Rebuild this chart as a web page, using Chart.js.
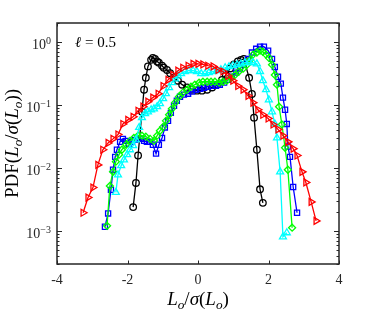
<!DOCTYPE html>
<html>
<head>
<meta charset="utf-8">
<script src="https://cdn.jsdelivr.net/npm/chart.js@4.4.1/dist/chart.umd.min.js"></script>
<style>
  html, body { margin: 0; padding: 0; background: #fff; }
  #wrap { width: 374px; height: 312px; position: relative; }
</style>
</head>
<body>
<div id="wrap"><canvas id="chartPdf"></canvas></div>
<script>
// ── DATA ──────────────────────────────────────────────────────────────────────
const xTicks = [-4, -2, 0, 2, 4];
const yDecades = [1e-3, 1e-2, 1e-1, 1];
const yExpLabels = ['\u22123', '\u22122', '\u22121', '0'];

const blackX = [-1.84,-1.76,-1.70,-1.59,-1.53,-1.48,-1.42,-1.33,-1.28,-1.22,-1.16,-1.11,-1.02,-0.97,-0.88,-0.79,-0.68,-0.57,-0.45,-0.31,-0.17,-0.03,0.11,0.26,0.40,0.54,0.68,0.79,0.91,1.02,1.13,1.22,1.30,1.45,1.53,1.59,1.67,1.76,1.84];
const blackY = [0.0024,0.0058,0.0158,0.078,0.175,0.27,0.41,0.52,0.56,0.54,0.49,0.47,0.42,0.39,0.36,0.32,0.27,0.243,0.21,0.19,0.175,0.169,0.169,0.175,0.19,0.21,0.25,0.30,0.38,0.44,0.49,0.52,0.54,0.27,0.15,0.063,0.0195,0.0046,0.0028];

const blueX = [-2.64,-2.55,-2.47,-2.41,-2.35,-2.30,-2.21,-2.13,-2.04,-1.96,-1.87,-1.79,-1.70,-1.62,-1.53,-1.45,-1.36,-1.28,-1.19,-1.11,-1.02,-0.94,-0.85,-0.77,-0.68,-0.60,-0.51,-0.40,-0.28,-0.17,-0.06,0.06,0.17,0.28,0.40,0.51,0.62,0.74,0.85,0.96,1.08,1.19,1.30,1.42,1.53,1.65,1.76,1.87,1.99,2.10,2.18,2.27,2.35,2.41,2.47,2.52,2.55,2.61,2.70,2.81];
const blueY = [0.00117,0.0019,0.0045,0.0094,0.015,0.0195,0.026,0.029,0.027,0.0243,0.026,0.028,0.029,0.029,0.027,0.026,0.026,0.0234,0.0169,0.0234,0.030,0.044,0.056,0.075,0.097,0.117,0.135,0.146,0.151,0.163,0.175,0.181,0.188,0.195,0.202,0.202,0.21,0.226,0.25,0.28,0.326,0.377,0.436,0.54,0.68,0.78,0.84,0.84,0.73,0.54,0.40,0.28,0.218,0.131,0.084,0.050,0.0219,0.015,0.0050,0.00195];

const greenX = [-2.58,-2.50,-2.41,-2.33,-2.24,-2.16,-2.04,-1.93,-1.82,-1.70,-1.59,-1.48,-1.36,-1.25,-1.16,-1.08,-0.99,-0.91,-0.82,-0.74,-0.65,-0.54,-0.43,-0.31,-0.20,-0.09,0.03,0.14,0.26,0.37,0.48,0.60,0.71,0.82,0.94,1.05,1.16,1.28,1.39,1.48,1.56,1.67,1.76,1.84,1.93,2.01,2.10,2.18,2.24,2.30,2.38,2.47,2.55,2.67];
const greenY = [0.00121,0.0052,0.0087,0.0126,0.0163,0.0195,0.0234,0.027,0.030,0.0326,0.0326,0.0314,0.029,0.027,0.0326,0.039,0.045,0.056,0.070,0.087,0.109,0.135,0.157,0.175,0.195,0.21,0.226,0.234,0.234,0.234,0.234,0.226,0.234,0.243,0.27,0.30,0.34,0.377,0.436,0.52,0.63,0.68,0.73,0.70,0.63,0.56,0.436,0.30,0.21,0.094,0.049,0.021,0.0094,0.00113];

const cyanX = [-2.33,-2.27,-2.18,-2.10,-2.01,-1.93,-1.84,-1.76,-1.67,-1.59,-1.50,-1.42,-1.33,-1.25,-1.16,-1.08,-0.99,-0.91,-0.82,-0.74,-0.65,-0.57,-0.48,-0.37,-0.26,-0.14,-0.03,0.09,0.20,0.31,0.43,0.54,0.65,0.77,0.88,0.99,1.11,1.22,1.33,1.45,1.56,1.67,1.76,1.84,1.93,2.01,2.10,2.18,2.24,2.33,2.41,2.52];
const cyanY = [0.0041,0.0078,0.0109,0.0135,0.0163,0.0195,0.0226,0.028,0.044,0.063,0.073,0.078,0.084,0.087,0.094,0.105,0.126,0.151,0.188,0.226,0.26,0.29,0.314,0.338,0.35,0.35,0.338,0.314,0.314,0.326,0.338,0.35,0.363,0.39,0.405,0.42,0.436,0.45,0.47,0.47,0.47,0.45,0.34,0.243,0.175,0.121,0.078,0.050,0.030,0.0087,0.00081,0.00094];

const redX = [-3.26,-3.12,-2.98,-2.84,-2.70,-2.55,-2.41,-2.27,-2.13,-1.99,-1.84,-1.70,-1.56,-1.42,-1.28,-1.13,-0.99,-0.85,-0.71,-0.57,-0.43,-0.28,-0.14,0,0.14,0.28,0.43,0.57,0.71,0.85,0.99,1.13,1.28,1.42,1.56,1.70,1.84,1.99,2.13,2.27,2.41,2.55,2.70,2.81,2.95,3.06,3.21,3.35];
const redY = [0.00195,0.0034,0.0049,0.0112,0.0195,0.025,0.029,0.034,0.050,0.058,0.065,0.081,0.094,0.113,0.131,0.151,0.20,0.25,0.30,0.35,0.39,0.42,0.45,0.45,0.44,0.42,0.41,0.36,0.34,0.29,0.243,0.20,0.175,0.14,0.109,0.084,0.070,0.061,0.049,0.041,0.0326,0.026,0.0203,0.0158,0.0087,0.0059,0.0029,0.00145];

// ── HELPERS ───────────────────────────────────────────────────────────────────
const SERIF = '"Liberation Serif", "DejaVu Serif", serif';
const AXIS_COL = '#262626';

const pts = (xs, ys) => xs.map((v, i) => ({ x: v, y: ys[i] }));

function series(label, xs, ys, color, style, radius, rotation) {
  return {
    label, data: pts(xs, ys), showLine: true,
    borderColor: color, borderWidth: 1.3,
    pointStyle: style, pointRadius: radius, pointRotation: rotation || 0,
    pointBorderColor: color, pointBackgroundColor: 'rgba(0,0,0,0)', pointBorderWidth: 1.3,
  };
}

// rich text: parts = [{t, i (italic), s (subscript)}], centred on x
function drawRich(ctx, parts, x, y, size) {
  const fontOf = p => (p.i ? 'italic ' : '') + (p.s ? size * 0.7 : size) + 'px ' + SERIF;
  let w = 0;
  parts.forEach(p => { ctx.font = fontOf(p); w += ctx.measureText(p.t).width; });
  let cx = x - w / 2;
  ctx.textAlign = 'left';
  ctx.textBaseline = 'alphabetic';
  parts.forEach(p => {
    ctx.font = fontOf(p);
    ctx.fillText(p.t, cx, p.s ? y + size * 0.22 : y);
    cx += ctx.measureText(p.t).width;
  });
}

// inward ticks, box, tick labels, axis labels, annotation
const axesDecor = {
  id: 'axesDecor',
  afterDraw(chart) {
    const { ctx, chartArea: a, scales: { x, y } } = chart;
    ctx.save();
    ctx.strokeStyle = AXIS_COL;
    ctx.fillStyle = AXIS_COL;
    ctx.lineWidth = 1;
    ctx.beginPath();
    xTicks.forEach(v => {
      const px = Math.round(x.getPixelForValue(v)) + 0.5;
      ctx.moveTo(px, a.bottom); ctx.lineTo(px, a.bottom - 3.5);
      ctx.moveTo(px, a.top);    ctx.lineTo(px, a.top + 3.5);
    });
    for (let d = -4; d <= 0; d++) {
      for (let m = 1; m <= 9; m++) {
        const v = m * Math.pow(10, d);
        if (v < y.min || v > y.max) continue;
        const len = m === 1 ? 5 : 2.5;
        const py = Math.round(y.getPixelForValue(v)) + 0.5;
        ctx.moveTo(a.left, py);  ctx.lineTo(a.left + len, py);
        ctx.moveTo(a.right, py); ctx.lineTo(a.right - len, py);
      }
    }
    ctx.stroke();

    ctx.lineWidth = 1.5;
    ctx.strokeRect(a.left, a.top, a.right - a.left, a.bottom - a.top);

    // x tick labels
    ctx.font = '14px ' + SERIF;
    ctx.textAlign = 'center';
    ctx.textBaseline = 'top';
    xTicks.forEach(v => ctx.fillText(String(v), x.getPixelForValue(v), a.bottom + 9));

    // y tick labels 10^n
    yDecades.forEach((v, i) => {
      const py = y.getPixelForValue(v);
      ctx.textBaseline = 'alphabetic';
      ctx.textAlign = 'right';
      ctx.font = '10px ' + SERIF;
      const ex = yExpLabels[i];
      const ew = ctx.measureText(ex).width;
      ctx.fillText(ex, a.left - 6, py + 2);
      ctx.font = '14px ' + SERIF;
      ctx.fillText('10', a.left - 6 - ew, py + 7);
    });

    ctx.fillStyle = '#000';
    // x axis label
    drawRich(ctx, [
      { t: 'L', i: true }, { t: 'o', i: true, s: true }, { t: '/' },
      { t: '\u03c3', i: true }, { t: '(' }, { t: 'L', i: true }, { t: 'o', i: true, s: true }, { t: ')' },
    ], (a.left + a.right) / 2, 305, 19);

    // y axis label
    ctx.save();
    ctx.translate(18, (a.top + a.bottom) / 2);
    ctx.rotate(-Math.PI / 2);
    drawRich(ctx, [
      { t: 'PDF(' }, { t: 'L', i: true }, { t: 'o', i: true, s: true }, { t: '/' },
      { t: '\u03c3', i: true }, { t: '(' }, { t: 'L', i: true }, { t: 'o', i: true, s: true }, { t: '))' },
    ], 0, 0, 19);
    ctx.restore();

    // annotation
    ctx.textAlign = 'left';
    ctx.textBaseline = 'alphabetic';
    ctx.font = 'italic 15px ' + SERIF;
    ctx.fillText('\u2113', 75, 47);
    const lw = ctx.measureText('\u2113').width;
    ctx.font = '15px ' + SERIF;
    ctx.fillText(' = 0.5', 75 + lw, 47);
    ctx.restore();
  }
};

// ── CHART ─────────────────────────────────────────────────────────────────────
new Chart(document.getElementById('chartPdf'), {
  type: 'scatter',
  data: {
    datasets: [
      series('red',   redX,   redY,   '#ff0000', 'triangle', 4, 90),
      series('cyan',  cyanX,  cyanY,  '#00ffff', 'triangle', 4),
      series('green', greenX, greenY, '#00ff00', 'rectRot', 3.5),
      series('blue',  blueX,  blueY,  '#0000ff', 'rect', 3.6),
      series('black', blackX, blackY, '#000000', 'circle', 3.3),
    ]
  },
  options: {
    responsive: true, maintainAspectRatio: false, animation: false, events: [],
    layout: { padding: { top: 23, right: 35, left: 0, bottom: 0 } },
    plugins: { legend: { display: false }, tooltip: { enabled: false } },
    scales: {
      x: {
        type: 'linear', min: -4, max: 4,
        grid: { display: false }, border: { display: false },
        ticks: { display: false, stepSize: 2 },
        afterFit: s => { s.height = 48; }
      },
      y: {
        type: 'logarithmic', min: 3e-4, max: 2,
        grid: { display: false }, border: { display: false },
        ticks: { display: false },
        afterFit: s => { s.width = 57; }
      }
    }
  },
  plugins: [axesDecor]
});
</script>
</body>
</html>
